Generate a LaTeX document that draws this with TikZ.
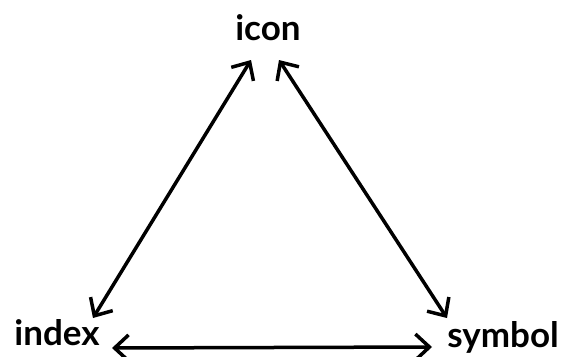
\documentclass[tikz,border=0pt]{standalone}
\usepackage{fontspec}
\setmainfont{Lato}
\usetikzlibrary{arrows.meta,calc}
\begin{document}
\begin{tikzpicture}[x=1pt,y=-1pt,
  lbl/.style={inner sep=0pt,anchor=base,font=\fontsize{35}{40}\selectfont\bfseries},
  tip/.style={Straight Barb[length=14pt,width=26pt,line width=3.5pt]},
  arr/.style={line width=3.5pt,line cap=round,{Straight Barb[length=14pt,width=26pt,line width=3.5pt]}-{Straight Barb[length=14pt,width=26pt,line width=3.5pt]}}]
\useasboundingbox (0,0) rectangle (564,356);
\node[lbl] (icon) at (268,40) {icon};
\node[lbl] (index) at (57,345) {index};
\node[lbl] (symbol) at (503,347) {symbol};
\draw[arr] ($(icon.base)+(-17,20)$) -- ($(index.base)+(36,-27)$);
\draw[arr] ($(icon.base)+(11,20)$) -- ($(symbol.base)+(-56,-29)$);
\draw[arr] ($(index.base)+(55,3)$) -- ($(symbol.base)+(-71,0)$);
\end{tikzpicture}
\end{document}
